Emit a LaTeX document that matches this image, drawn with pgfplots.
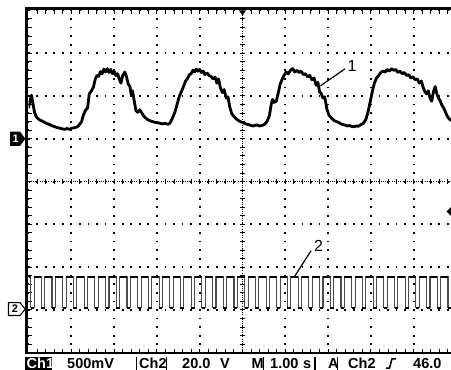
\documentclass[border=0pt]{standalone}
\usepackage{fontspec}
\setmainfont{Liberation Sans}
\usepackage{pgfplots}
\pgfplotsset{compat=1.18}
\usepackage{pgfplotstable}

% Channel 1 (x in divisions, 1.00 s/div; y in divisions from the bottom)
\pgfplotstableread{
x y
0.00 5.72
0.04 5.90
0.07 6.02
0.10 5.85
0.14 5.62
0.19 5.50
0.26 5.44
0.35 5.40
0.42 5.36
0.50 5.33
0.56 5.30
0.62 5.28
0.68 5.26
0.73 5.25
0.80 5.23
0.85 5.22
0.90 5.24
0.96 5.22
1.02 5.25
1.08 5.26
1.14 5.28
1.18 5.32
1.24 5.40
1.28 5.55
1.34 5.68
1.38 5.72
1.42 6.05
1.47 6.12
1.52 6.22
1.56 6.40
1.60 6.48
1.64 6.46
1.68 6.57
1.72 6.52
1.76 6.63
1.80 6.56
1.84 6.64
1.88 6.55
1.92 6.62
1.96 6.52
2.00 6.58
2.04 6.48
2.08 6.52
2.12 6.40
2.16 6.30
2.20 6.48
2.25 6.56
2.29 6.45
2.33 6.28
2.37 6.22
2.40 6.02
2.43 6.12
2.47 5.88
2.51 5.66
2.55 5.62
2.60 5.68
2.65 5.60
2.70 5.52
2.78 5.45
2.84 5.42
2.90 5.40
2.97 5.38
3.05 5.37
3.12 5.35
3.20 5.36
3.26 5.34
3.30 5.36
3.36 5.48
3.42 5.62
3.47 5.80
3.52 5.98
3.57 6.10
3.62 6.22
3.67 6.35
3.72 6.42
3.76 6.50
3.80 6.52
3.84 6.60
3.88 6.56
3.92 6.63
3.96 6.58
4.00 6.62
4.04 6.55
4.08 6.58
4.12 6.50
4.17 6.54
4.22 6.48
4.27 6.45
4.31 6.40
4.36 6.44
4.40 6.30
4.44 6.40
4.48 6.20
4.53 6.08
4.57 6.15
4.62 5.95
4.66 5.98
4.70 5.75
4.75 5.58
4.80 5.52
4.87 5.45
4.95 5.40
5.00 5.38
5.05 5.36
5.10 5.34
5.15 5.33
5.20 5.31
5.25 5.30
5.30 5.32
5.35 5.32
5.40 5.30
5.45 5.31
5.52 5.34
5.58 5.42
5.63 5.55
5.67 5.80
5.70 5.92
5.74 5.85
5.79 5.88
5.83 6.05
5.88 6.28
5.93 6.40
5.98 6.50
6.02 6.56
6.07 6.52
6.12 6.60
6.17 6.64
6.22 6.56
6.27 6.60
6.32 6.55
6.37 6.58
6.42 6.50
6.47 6.52
6.52 6.45
6.57 6.48
6.62 6.38
6.67 6.42
6.72 6.25
6.76 6.32
6.80 6.10
6.84 6.05
6.88 5.95
6.92 5.98
6.97 5.70
7.02 5.55
7.08 5.48
7.15 5.42
7.20 5.40
7.25 5.38
7.30 5.35
7.35 5.33
7.40 5.32
7.45 5.30
7.50 5.31
7.55 5.29
7.60 5.28
7.65 5.30
7.70 5.29
7.75 5.32
7.82 5.36
7.88 5.45
7.93 5.62
7.98 5.85
8.03 6.10
8.08 6.30
8.13 6.42
8.18 6.48
8.23 6.55
8.28 6.58
8.33 6.56
8.38 6.62
8.43 6.58
8.48 6.64
8.53 6.60
8.58 6.62
8.63 6.55
8.68 6.58
8.73 6.52
8.78 6.55
8.83 6.48
8.88 6.50
8.93 6.42
8.98 6.45
9.03 6.38
9.08 6.40
9.13 6.30
9.18 6.35
9.22 6.20
9.26 6.10
9.30 6.05
9.34 6.12
9.38 5.95
9.42 5.88
9.46 6.10
9.50 6.22
9.54 6.05
9.58 5.95
9.62 5.88
9.66 5.78
9.70 5.72
9.75 5.60
9.80 5.50
9.87 5.42
}\chone

% Channel 2 pulse train (level changes)
\pgfplotstableread{
x y
0.00 1.77
0.05 1.05
0.13 1.77
0.30 1.05
0.38 1.77
0.55 1.05
0.63 1.77
0.80 1.05
0.88 1.77
1.05 1.05
1.13 1.77
1.30 1.05
1.38 1.77
1.55 1.05
1.63 1.77
1.80 1.05
1.88 1.77
2.05 1.05
2.13 1.77
2.30 1.05
2.38 1.77
2.55 1.05
2.63 1.77
2.80 1.05
2.88 1.77
3.05 1.05
3.13 1.77
3.30 1.05
3.38 1.77
3.55 1.05
3.63 1.77
3.80 1.05
3.88 1.77
4.05 1.05
4.13 1.77
4.30 1.05
4.38 1.77
4.55 1.05
4.63 1.77
4.80 1.05
4.88 1.77
5.05 1.05
5.13 1.77
5.30 1.05
5.38 1.77
5.55 1.05
5.63 1.77
5.80 1.05
5.88 1.77
6.05 1.05
6.13 1.77
6.30 1.05
6.38 1.77
6.55 1.05
6.63 1.77
6.80 1.05
6.88 1.77
7.05 1.05
7.13 1.77
7.30 1.05
7.38 1.77
7.55 1.05
7.63 1.77
7.80 1.05
7.88 1.77
8.05 1.05
8.13 1.77
8.30 1.05
8.38 1.77
8.55 1.05
8.63 1.77
8.80 1.05
8.88 1.77
9.05 1.05
9.13 1.77
9.30 1.05
9.38 1.77
9.55 1.05
9.63 1.77
9.80 1.05
9.87 1.05
}\chtwo

\begin{document}
\begin{tikzpicture}[x=1pt,y=1pt]
\path[use as bounding box] (-28.5,-17.2) rectangle (422.5,352.8);
\clip (-28.5,-17.2) rectangle (422.5,352.8);

% centre cross with fine graduations
\draw[black, line width=0.8pt, dash pattern=on 1pt off 1.2pt] (214,0) -- (214,342.4);
\draw[black, line width=0.8pt, dash pattern=on 1pt off 1.2pt] (0,171.2) -- (422.5,171.2);
\foreach \k in {1,...,39} \draw[line width=1pt] (211.3,\k*8.56) -- (216.7,\k*8.56);
\foreach \k in {1,...,49} \draw[line width=1pt] (\k*8.56,168.5) -- (\k*8.56,173.9);
% border graduations
\foreach \k in {1,...,49} \draw[line width=1pt] (\k*8.56,342.4) -- (\k*8.56,339.2);
\foreach \k in {1,...,49} \draw[line width=1pt] (\k*8.56,0) -- (\k*8.56,3.6);
\foreach \k in {1,...,39} \draw[line width=1pt] (0,\k*8.56) -- (3.6,\k*8.56);

\begin{axis}[
  at={(0,0)}, anchor=south west,
  scale only axis, width=422.5pt, height=342.4pt,
  xmin=0, xmax=9.87, ymin=0, ymax=8,
  axis line style={draw=none},
  xtick={0,...,9}, ytick={0,...,8},
  xticklabels={}, yticklabels={},
  major tick length=0pt,
  grid=major,
  major grid style={black, line width=1.8pt, dash pattern=on 1.8pt off 6.76pt, dash phase=0.9pt},
  clip=true,
]
\addplot[black, line width=2.8pt, line join=round] table {\chone};
\addplot[const plot, black!70, line width=1.1pt] table {\chtwo};
\addplot[jump mark left, black, line width=2.4pt] table {\chtwo};
\end{axis}

% screen borders
\draw[line width=3.2pt] (-3.6,343.9) -- (422.5,343.9);
\draw[line width=3pt] (-2,-1.5) -- (-2,345.4);
\draw[line width=2.2pt] (-2,-0.6) -- (422.5,-0.6);

% trigger markers
\fill (210.5,342.4) -- (217.5,342.4) -- (214,337.2) -- cycle;
\fill (418,141.3) -- (422.6,145.8) -- (422.6,136.8) -- cycle;

% channel ground markers
\fill (-18.5,206.8) -- (-8.5,206.8) -- (-3.2,214) -- (-8.5,221.2) -- (-18.5,221.2) -- cycle;
\node[text=white, font=\bfseries\fontsize{11}{11}\selectfont, inner sep=0pt] at (-12.8,214) {1};
\draw[line width=1.1pt, fill=white] (-20,37.3) -- (-8.5,37.3) -- (-3.2,43.7) -- (-8.5,50.1) -- (-20,50.1) -- cycle;
\node[font=\bfseries\fontsize{11}{11}\selectfont, inner sep=0pt] at (-13.5,43.7) {2};

% trace labels
\node[font=\fontsize{16}{16}\selectfont, inner sep=0pt] at (323.5,287) {1};
\draw[line width=1.2pt] (316.5,284) -- (292,267);
\node[font=\fontsize{16}{16}\selectfont, inner sep=0pt] at (290,106.8) {2};
\draw[line width=1.2pt] (282.5,102) -- (265.5,75.5);

% status bar
\fill (-3.5,-17.5) rectangle (23.5,-4);
\begin{scope}[font=\bfseries\fontsize{14.5}{14.5}\selectfont]
\node[anchor=base west, inner sep=0pt, text=white] at (-2,-15.6) {Ch1};
\node[anchor=base west, inner sep=0pt] at (38.5,-15.6) {500mV};
\draw[line width=1.1pt] (108.3,-17.5) -- (108.3,-4);
\node[anchor=base west, inner sep=0pt] at (110.5,-15.6) {Ch2};
\draw[line width=1.1pt] (138,-17.5) -- (138,-4);
\node[anchor=base west, inner sep=0pt] at (153.5,-15.6) {20.0};
\node[anchor=base west, inner sep=0pt] at (191.5,-15.6) {V};
\node[anchor=base west, inner sep=0pt] at (223,-15.6) {M};
\draw[line width=1.1pt] (235,-17.5) -- (235,-4);
\node[anchor=base west, inner sep=0pt] at (241.5,-15.6) {1.00};
\node[anchor=base west, inner sep=0pt] at (274.5,-15.6) {s};
\draw[line width=1.1pt] (286.5,-17.5) -- (286.5,-4);
\node[anchor=base west, inner sep=0pt] at (299.5,-15.6) {A};
\draw[line width=1.1pt] (309,-17.5) -- (309,-4);
\node[anchor=base west, inner sep=0pt] at (319.5,-15.6) {Ch2};
\draw[line width=1.5pt] (357.5,-15.4) -- (361,-15.4) -- (363.5,-6) -- (367.5,-6);
\node[anchor=base west, inner sep=0pt] at (384.5,-15.6) {46.0};
\end{scope}
\end{tikzpicture}
\end{document}
